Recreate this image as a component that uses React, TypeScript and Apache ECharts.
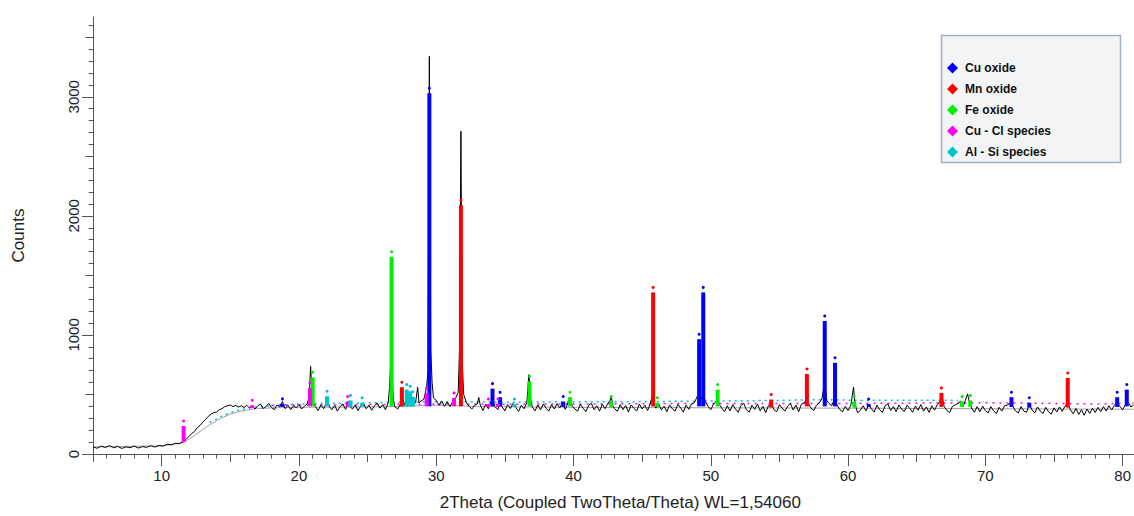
import React, { useEffect, useRef } from "react";
import * as echarts from "echarts";

// ---- axis labels / ticks ----
const xLabelValues = [10, 20, 30, 40, 50, 60, 70, 80];
const xMidTicks = [5, 15, 25, 35, 45, 55, 65, 75];
const yLabelValues = [0, 1000, 2000, 3000];
const yMidTicks = [500, 1500, 2500, 3500];
const xTitle = "2Theta (Coupled TwoTheta/Theta) WL=1,54060";
const yTitle = "Counts";

// ---- phases (legend) ----
const phaseNames = ["Cu oxide", "Mn oxide", "Fe oxide", "Cu - Cl species", "Al - Si species"];
const phaseColors = ["#0000ff", "#ff0000", "#00ee00", "#ff00ff", "#00c4cc"];

// ---- measured scan [2theta, counts] ----
const scanLow: number[][] = [
  [5, 60], [5.3, 48], [5.6, 66], [5.9, 55], [6.2, 70], [6.5, 52], [6.8, 64], [7.1, 47], [7.4, 60],
  [7.7, 53], [8, 67], [8.3, 50], [8.6, 62], [8.9, 56], [9.2, 70], [9.5, 58], [9.8, 72], [10.1, 66],
  [10.4, 82], [10.7, 76], [11, 90], [11.3, 86], [11.6, 105], [11.8, 125], [12, 150], [12.2, 172],
  [12.4, 190], [12.6, 222], [12.8, 240], [13, 268], [13.2, 290], [13.4, 316], [13.6, 335], [13.8, 348],
  [14, 352], [14.2, 372], [14.4, 380], [14.6, 398], [14.8, 405], [15, 412], [15.2, 398], [15.4, 408],
  [15.6, 394], [15.8, 405], [16, 390], [16.2, 410], [16.4, 386], [16.6, 402], [16.8, 378], [17, 405],
  [17.2, 420], [17.4, 382], [17.6, 398], [17.8, 425], [18, 390], [18.2, 372], [18.4, 412], [18.6, 395],
  [18.8, 440], [18.9, 405], [19, 380], [19.2, 410], [19.4, 372], [19.6, 405], [19.8, 388],
];
const scanMid: number[][] = [
  [20, 415], [20.2, 378], [20.4, 402], [20.6, 420], [20.75, 480], [20.85, 736], [20.95, 520], [21.05, 430],
  [21.2, 398], [21.4, 365], [21.6, 412], [21.8, 380], [22, 430], [22.1, 452], [22.2, 400], [22.4, 372],
  [22.6, 408], [22.8, 360], [23, 398], [23.2, 420], [23.4, 375], [23.6, 445], [23.7, 400], [23.9, 378],
  [24.1, 412], [24.3, 365], [24.5, 402], [24.7, 425], [24.9, 380], [25.1, 410], [25.3, 368], [25.5, 405],
  [25.7, 428], [25.9, 385], [26.1, 415], [26.3, 372], [26.5, 430], [26.6, 560], [26.7, 800], [26.8, 610],
  [26.9, 440], [27, 395], [27.2, 378], [27.4, 420], [27.55, 470], [27.7, 410], [27.9, 440], [28.1, 455],
  [28.3, 405], [28.5, 435], [28.65, 560], [28.75, 430], [28.9, 445], [29.1, 460], [29.3, 560], [29.4, 700],
  [29.5, 3340], [29.6, 880], [29.7, 600], [29.8, 470], [30, 450], [30.2, 410], [30.4, 445], [30.6, 400],
  [30.8, 438], [31, 398], [31.2, 440], [31.4, 465], [31.6, 520], [31.7, 880], [31.8, 2710], [31.9, 760],
  [32, 500], [32.2, 430], [32.4, 400], [32.6, 378], [32.8, 410], [33, 420], [33.1, 475], [33.2, 415],
  [33.4, 365], [33.6, 418], [33.8, 380], [34, 440], [34.1, 475], [34.25, 400], [34.5, 372], [34.65, 445],
  [34.8, 395], [35, 362], [35.2, 415], [35.4, 382], [35.6, 425], [35.8, 390], [36, 358], [36.2, 410],
  [36.4, 380], [36.6, 430], [36.75, 666], [36.9, 440], [37, 395], [37.2, 362], [37.4, 412], [37.6, 370],
  [37.8, 420], [38, 385], [38.2, 360], [38.4, 415], [38.6, 378], [38.8, 422], [39, 388], [39.2, 428],
  [39.4, 375], [39.6, 430], [39.75, 475], [39.9, 405], [40.1, 378], [40.3, 360], [40.5, 418],
];
const scanHigh: number[][] = [
  [40.7, 385], [40.9, 355], [41.1, 410], [41.3, 425], [41.5, 372], [41.7, 405], [41.9, 360], [42.1, 418],
  [42.3, 380], [42.5, 425], [42.65, 445], [42.75, 485], [42.85, 410], [43, 380], [43.2, 358], [43.4, 415],
  [43.6, 372], [43.8, 408], [44, 352], [44.2, 412], [44.4, 385], [44.6, 360], [44.8, 420], [45, 378],
  [45.2, 410], [45.4, 365], [45.6, 425], [45.75, 500], [45.85, 420], [46, 385], [46.2, 422], [46.4, 370],
  [46.6, 402], [46.8, 355], [47, 412], [47.2, 380], [47.4, 360], [47.6, 418], [47.8, 388], [48, 352],
  [48.2, 410], [48.4, 375], [48.6, 420], [48.8, 430], [49, 480], [49.15, 520], [49.3, 460], [49.45, 510],
  [49.6, 440], [49.8, 400], [50, 372], [50.2, 420], [50.4, 445], [50.5, 480], [50.6, 420], [50.8, 385],
  [51, 355], [51.2, 405], [51.4, 362], [51.6, 415], [51.8, 378], [52, 350], [52.2, 408], [52.4, 425],
  [52.6, 370], [52.8, 352], [53, 410], [53.2, 375], [53.4, 420], [53.6, 362], [53.8, 400], [54, 348],
  [54.2, 405], [54.4, 430], [54.6, 372], [54.8, 355], [55, 415], [55.2, 385], [55.4, 360], [55.6, 402],
  [55.8, 425], [56, 370], [56.2, 410], [56.4, 355], [56.6, 418], [56.8, 430], [57, 460], [57.15, 415],
  [57.3, 385], [57.5, 365], [57.7, 410], [57.9, 430], [58.1, 465], [58.3, 611], [58.45, 450], [58.6, 425],
  [58.8, 405], [59.05, 470], [59.2, 410], [59.4, 372], [59.6, 355], [59.8, 400], [60, 365], [60.2, 410],
  [60.4, 561], [60.5, 420], [60.7, 345], [60.9, 370], [61.1, 405], [61.3, 362], [61.5, 412], [61.7, 380],
  [61.9, 352], [62.1, 410], [62.3, 372], [62.5, 350], [62.7, 405], [62.9, 420], [63.1, 365], [63.3, 398],
  [63.5, 355], [63.7, 412], [63.9, 375], [64.1, 358], [64.3, 410], [64.5, 382], [64.7, 350], [64.9, 402],
  [65.1, 368], [65.3, 415], [65.5, 360], [65.7, 395], [65.9, 350], [66.1, 405], [66.3, 368], [66.5, 415],
  [66.7, 440], [66.85, 480], [67, 400], [67.2, 365], [67.4, 348], [67.6, 400], [67.8, 412], [68, 425],
  [68.2, 445], [68.4, 405], [68.6, 470], [68.7, 505], [68.85, 430], [69, 385], [69.2, 350], [69.4, 398],
  [69.6, 355], [69.8, 402], [70, 365], [70.2, 345], [70.4, 398], [70.6, 362], [70.8, 340], [71, 392],
  [71.2, 360], [71.4, 405], [71.6, 412], [71.8, 425], [71.9, 445], [72, 400], [72.2, 362], [72.4, 345],
  [72.6, 398], [72.8, 360], [73, 350], [73.2, 415], [73.4, 370], [73.6, 345], [73.8, 395], [74, 360],
  [74.2, 340], [74.4, 392], [74.6, 355], [74.8, 335], [75, 388], [75.2, 352], [75.4, 395], [75.6, 358],
  [75.8, 402], [76, 425], [76.2, 370], [76.4, 338], [76.6, 382], [76.8, 332], [77, 372], [77.2, 325],
  [77.4, 378], [77.6, 340], [77.8, 385], [78, 348], [78.2, 392], [78.4, 355], [78.6, 398], [78.8, 362],
  [79, 405], [79.2, 370], [79.4, 410], [79.6, 435], [79.8, 400], [80, 372], [80.2, 415], [80.4, 435],
  [80.6, 395], [80.8, 410],
];

// ---- fitted background [2theta, counts] ----
const background: number[][] = [
  [5, 60], [10, 68], [11, 85], [11.6, 100], [12, 125], [12.5, 165], [13, 205], [13.5, 245], [14, 280],
  [14.5, 310], [15, 335], [15.5, 352], [16, 365], [16.5, 374], [17, 381], [18, 388], [20, 392], [25, 395],
  [28, 400], [29.5, 410], [31, 408], [33, 398], [40, 392], [50, 388], [60, 385], [70, 380], [80.8, 376],
];

// ---- reference sticks [2theta, top counts, base counts] ----
const cuOxide: number[][] = [
  [18.8, 421, 395], [29.5, 3030, 400], [34.1, 549, 400], [34.65, 477, 400], [39.25, 440, 395],
  [49.15, 964, 400], [49.45, 1357, 400], [58.3, 1117, 400], [59.05, 766, 400], [61.5, 420, 395],
  [71.9, 477, 395], [73.2, 430, 390], [79.6, 477, 395], [80.3, 541, 400],
];
const mnOxide: number[][] = [
  [27.5, 561, 400], [31.8, 2090, 400], [45.8, 1357, 400], [54.4, 457, 390], [57.0, 672, 400],
  [66.8, 513, 395], [76.0, 638, 390],
];
const feOxide: number[][] = [
  [21.0, 644, 400], [26.75, 1657, 400], [36.8, 611, 400], [39.75, 477, 400], [42.75, 440, 395],
  [46.1, 430, 395], [50.5, 541, 400], [60.45, 440, 390], [68.3, 440, 395], [68.9, 450, 395],
];
const cuClSpecies: number[][] = [
  [11.6, 235, 100], [16.6, 410, 385], [20.8, 555, 400], [23.55, 440, 395], [29.3, 513, 400],
  [31.3, 471, 400], [33.8, 420, 395], [34.5, 420, 395],
];
const alSiSpecies: number[][] = [
  [22.05, 485, 400], [23.75, 450, 395], [24.6, 430, 395], [27.85, 541, 400], [28.1, 527, 400],
  [28.3, 480, 400], [35.7, 420, 395],
];
const sticks = [cuOxide, mnOxide, feOxide, cuClSpecies, alSiSpecies];

// ---- dotted calculated patterns near the baseline ----
const alSiPattern: number[][] = [
  [13.5, 265], [14.5, 325], [15.5, 365], [16.5, 390], [18, 405], [20, 420], [25, 430], [30, 440],
  [35, 435], [40, 438], [45, 440], [50, 445], [55, 450], [57, 455], [59, 455], [61, 450], [65, 452], [68, 450],
];
const cuClPattern: number[][] = [
  [18, 410], [25, 415], [30, 420], [35, 418], [40, 420], [50, 425], [60, 425], [66, 428], [70, 430],
  [75, 425], [78, 420], [80.8, 428],
];

const X_MIN = 5;
const X_MAX = 80.8;
const Y_MIN = 0;
const Y_MAX = 3670;
const FONT = "'Liberation Sans', Arial, sans-serif";

function range(a: number, b: number, step: number) {
  const out: number[] = [];
  for (let v = a; v <= b + 1e-9; v += step) out.push(Math.round(v * 100) / 100);
  return out;
}

export default function App() {
  const ref = useRef<HTMLDivElement>(null);
  useEffect(() => {
    if (!ref.current) return;
    const chart = echarts.init(ref.current, null, { renderer: "svg" });
    const axisColor = "#555";
    const baseX = {
      type: "value" as const,
      min: X_MIN,
      max: X_MAX,
      gridIndex: 0,
      position: "bottom" as const,
      splitLine: { show: false },
    };
    const baseY = {
      type: "value" as const,
      min: Y_MIN,
      max: Y_MAX,
      gridIndex: 0,
      position: "left" as const,
      splitLine: { show: false },
    };
    const renderStick = (color: string) => (params: any, api: any) => {
      const x = api.value(0);
      const top = api.coord([x, api.value(1)]);
      const bot = api.coord([x, api.value(2)]);
      return {
        type: "group",
        children: [
          {
            type: "rect",
            shape: { x: top[0] - 2, y: top[1], width: 4, height: bot[1] - top[1] },
            style: { fill: color },
          },
          {
            type: "circle",
            shape: { cx: top[0], cy: top[1] - 5, r: 1.5 },
            style: { fill: color },
          },
        ],
      };
    };
    const option: any = {
      animation: false,
      backgroundColor: "#ffffff",
      grid: { left: 93, right: 0, top: 17, bottom: 60, containLabel: false },
      xAxis: [
        {
          ...baseX,
          axisLine: { show: true, lineStyle: { color: axisColor, width: 1 } },
          axisTick: { show: true, length: 4.5, customValues: range(5, 80, 1), lineStyle: { color: axisColor } },
          axisLabel: {
            show: true,
            customValues: xLabelValues,
            formatter: (v: number) => String(v),
            fontSize: 15,
            color: "#222",
            fontFamily: FONT,
            margin: 14,
          },
          name: xTitle,
          nameLocation: "middle",
          nameGap: 40,
          nameTextStyle: { fontSize: 17, color: "#222", fontFamily: FONT, padding: [0, 0, 0, 14] },
        },
        {
          ...baseX,
          axisLine: { show: false },
          axisTick: { show: true, length: 8, customValues: xMidTicks, lineStyle: { color: axisColor } },
          axisLabel: { show: false },
        },
        {
          ...baseX,
          axisLine: { show: false },
          axisTick: { show: true, length: 12, customValues: xLabelValues, lineStyle: { color: axisColor } },
          axisLabel: { show: false },
        },
      ],
      yAxis: [
        {
          ...baseY,
          axisLine: { show: true, lineStyle: { color: axisColor, width: 1 } },
          axisTick: { show: true, length: 4.3, customValues: range(0, 3600, 100), lineStyle: { color: axisColor } },
          axisLabel: {
            show: true,
            customValues: yLabelValues,
            formatter: (v: number) => String(v),
            rotate: 90,
            fontSize: 15,
            color: "#222",
            fontFamily: FONT,
            margin: 12,
          },
          name: yTitle,
          nameLocation: "middle",
          nameRotate: 90,
          nameGap: 66,
          nameTextStyle: { fontSize: 17, color: "#222", fontFamily: FONT },
        },
        {
          ...baseY,
          axisLine: { show: false },
          axisTick: { show: true, length: 7.7, customValues: yMidTicks, lineStyle: { color: axisColor } },
          axisLabel: { show: false },
        },
        {
          ...baseY,
          axisLine: { show: false },
          axisTick: { show: true, length: 11, customValues: yLabelValues, lineStyle: { color: axisColor } },
          axisLabel: { show: false },
        },
      ],
      graphic: [
        {
          type: "rect",
          z: 20,
          shape: { x: 941.5, y: 35.5, width: 179, height: 127 },
          style: { fill: "#f3f4f6", stroke: "#9fb0c8", lineWidth: 1.5 },
        },
      ],
      legend: {
        z: 30,
        orient: "vertical",
        left: 947,
        top: 62,
        padding: 0,
        itemGap: 9,
        itemWidth: 11,
        itemHeight: 11,
        selectedMode: false,
        textStyle: { fontSize: 12, fontWeight: "bold", color: "#111", fontFamily: FONT, padding: [0, 0, 0, 2] },
        data: phaseNames.map((n, i) => ({ name: n, icon: "diamond", itemStyle: { color: phaseColors[i] } })),
      },
      series: [
        {
          name: "background",
          type: "line",
          data: background,
          symbol: "none",
          lineStyle: { color: "#a0a0a0", width: 1 },
          z: 1,
          silent: true,
        },
        {
          name: "Al - Si pattern",
          type: "line",
          data: alSiPattern,
          symbol: "none",
          lineStyle: { color: phaseColors[4], width: 1.5, type: [2, 4] },
          z: 2,
          silent: true,
        },
        {
          name: "Cu - Cl pattern",
          type: "line",
          data: cuClPattern,
          symbol: "none",
          lineStyle: { color: phaseColors[3], width: 1.5, type: [2, 5] },
          z: 2,
          silent: true,
        },
        {
          name: "scan",
          type: "line",
          data: [...scanLow, ...scanMid, ...scanHigh],
          symbol: "none",
          lineStyle: { color: "#000", width: 1 },
          z: 3,
          silent: true,
        },
        ...phaseNames.map((n, i) => ({
          name: n,
          type: "custom",
          data: sticks[i],
          encode: { x: 0, y: 1 },
          itemStyle: { color: phaseColors[i] },
          renderItem: renderStick(phaseColors[i]),
          z: 4,
          silent: true,
        })),
      ],
    };
    chart.setOption(option);
    return () => chart.dispose();
  }, []);
  return (
    <div
      ref={ref}
      style={{ position: "fixed", left: 0, top: 0, width: 1134, height: 516, background: "#fff" }}
    />
  );
}
